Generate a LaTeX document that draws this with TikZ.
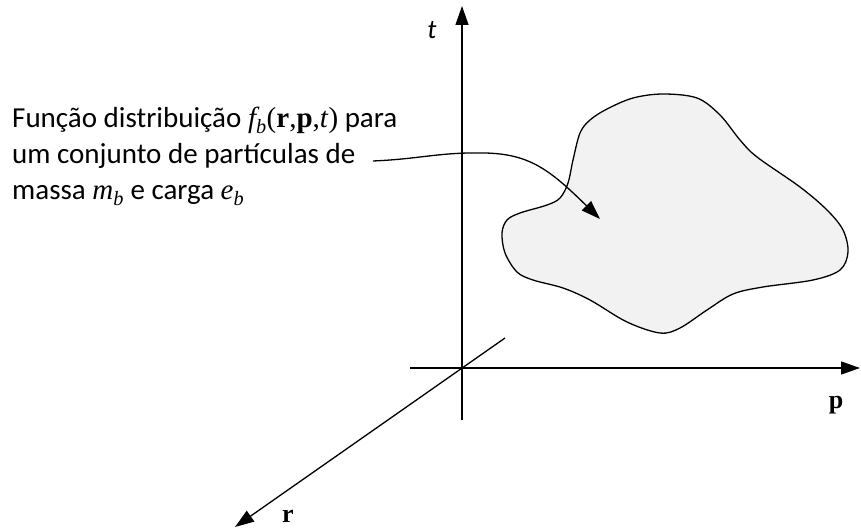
\documentclass[tikz,border=0pt]{standalone}
\usepackage{fontspec}
\setmainfont{Carlito}
\newfontfamily\tnr{Liberation Serif}
\usetikzlibrary{arrows.meta}
\definecolor{blobfill}{HTML}{F2F2F2}
\tikzset{
  axis/.style={line width=1.3pt,-{Triangle[length=19pt,width=13pt]}},
  plainline/.style={line width=1.3pt},
  blob/.style={line width=1.3pt,fill=blobfill},
  lbl/.style={inner sep=0pt,anchor=base west,font=\fontsize{29}{36}\selectfont},
  axlbl/.style={inner sep=0pt,anchor=base,font=\fontsize{26}{30}\selectfont\tnr\bfseries},
}
\begin{document}
\begin{tikzpicture}[x=1pt,y=-1pt]
\useasboundingbox (0,0) rectangle (861,529);
% axes coordinates
\coordinate (O) at (462,368);
\coordinate (tb) at (462,420);
\coordinate (tt) at (462,6);
\coordinate (pl) at (410,368);
\coordinate (pr) at (860,368);
\coordinate (ru) at (505,338);
\coordinate (rd) at (235,527);
% blob
\draw[blob] plot[smooth cycle,tension=0.55] coordinates {
 (663,94) (697,98) (720,115) (740,140) (757,157) (800,187) (827,210)
 (843,230) (848,252) (840,270) (813,280) (763,287) (733,294) (707,310)
 (680,328) (660,333) (627,322) (590,300) (563,288) (533,280) (517,272)
 (505,253) (502,233) (507,220) (520,213) (547,205) (560,198) (568,183)
 (573,160) (580,133) (590,120) (607,109) (633,98)};
% axes
\draw[axis] (tb) -- (tt);
\draw[axis] (pl) -- (pr);
\draw[axis] (ru) -- (rd);
% labels of axes
\node[inner sep=0pt,anchor=base,font=\fontsize{27}{30}\selectfont\itshape] (tl) at (432,39) {t};
\node[axlbl] (pL) at (836,408) {p};
\node[axlbl] (rL) at (288,522) {r};
% text
\node[lbl] (l1) at (12,128) {Função distribuição {\tnr\itshape f\textsubscript{b}}{\tnr(\textbf{r},\textbf{p},\textit{t})} para};
\node[lbl] (l2) at (12,164) {um conjunto de partículas de};
\node[lbl] (l3) at (12,200) {massa {\tnr\itshape m\textsubscript{b}} e carga {\tnr\itshape e\textsubscript{b}}};
% pointer
\coordinate (cs) at (373,161);
\coordinate (ce) at (600,219);
\draw[plainline,-{Triangle[length=19pt,width=13pt]}] (cs) .. controls (420,159) and (440,152) .. (485,153)
  .. controls (530,154) and (550,170) .. (ce);
\end{tikzpicture}
\end{document}
